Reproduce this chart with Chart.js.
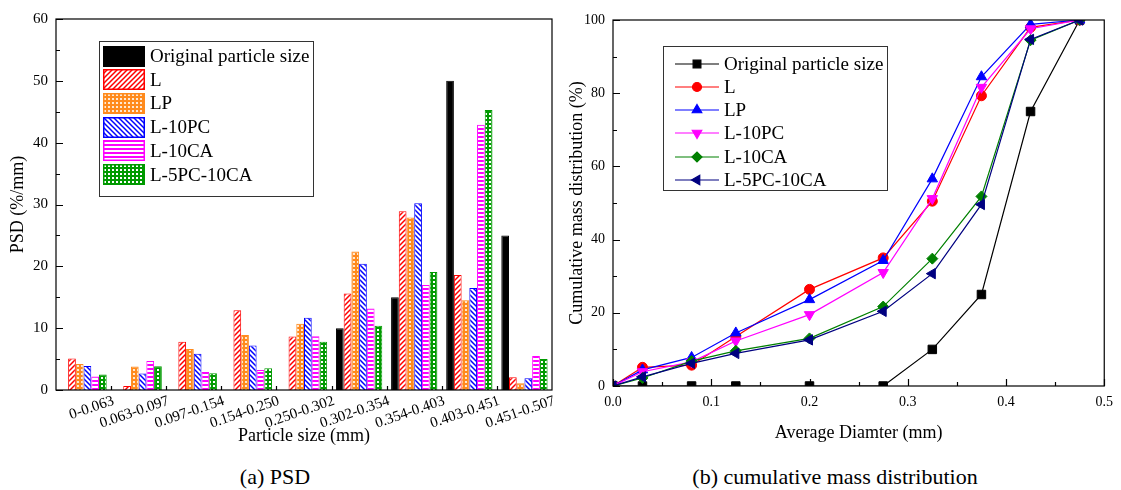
<!DOCTYPE html>
<html>
<head>
<meta charset="utf-8">
<script src="https://cdn.jsdelivr.net/npm/chart.js@4.4.1/dist/chart.umd.min.js"></script>
<style>
body { margin: 0; background: #fff; }
#wrap { position: relative; width: 1121px; height: 490px; font-family: 'Liberation Serif', 'Times New Roman', serif; color: #000; overflow: hidden; }
canvas.chart { position: absolute; top: 0; }
.legend { position: absolute; border: 1px solid #333; background: #fff; box-sizing: border-box; }
.row { position: absolute; display: flex; align-items: center; font-size: 19px; white-space: nowrap; }
.row canvas { display: block; }
.caption { position: absolute; top: 464px; font-size: 22px; transform: translateX(-50%); white-space: nowrap; }
</style>
</head>
<body>
<div id="wrap">
  <canvas id="psd" class="chart" width="560" height="450" style="left:0"></canvas>
  <canvas id="cum" class="chart" width="561" height="450" style="left:560px"></canvas>
  <div id="legendA" class="legend" style="left:99px;top:41px;width:215px;height:156px"></div>
  <div id="legendB" class="legend" style="left:663px;top:46px;width:225px;height:145px"></div>
  <div class="caption" style="left:275px">(a) PSD</div>
  <div class="caption" style="left:835px">(b) cumulative mass distribution</div>
</div>
<script>
// data
const sizeRanges = ['0-0.063', '0.063-0.097', '0.097-0.154', '0.154-0.250', '0.250-0.302',
                    '0.302-0.354', '0.354-0.403', '0.403-0.451', '0.451-0.507'];
const seriesNames = ['Original particle size', 'L', 'LP', 'L-10PC', 'L-10CA', 'L-5PC-10CA'];

const psdOriginal = [0, 0, 0, 0, 0, 10, 15, 50, 25];
const psdL        = [5.1, 0.65, 7.8, 12.9, 8.65, 15.6, 28.9, 18.6, 2.05];
const psdLP       = [4.2, 3.8, 6.65, 8.9, 10.7, 22.4, 27.9, 14.5, 1.1];
const psdL10PC    = [3.9, 2.65, 5.85, 7.2, 11.7, 20.4, 30.2, 16.5, 1.9];
const psdL10CA    = [2.2, 4.7, 2.9, 3.25, 8.7, 13.2, 17.0, 42.9, 5.5];
const psdL5PC10CA = [2.5, 3.85, 2.7, 3.5, 7.8, 10.4, 19.1, 45.3, 5.0];

const avgDiameter = [0, 0.03, 0.08, 0.125, 0.2, 0.275, 0.325, 0.375, 0.425, 0.475];
const cumOriginal = [0, 0, 0, 0, 0, 0, 10, 25, 75, 100];
const cumL        = [0, 5.1, 5.7, 13.5, 26.4, 35.0, 50.5, 79.3, 98.0, 100];
const cumLP       = [0, 4.4, 7.8, 14.5, 23.6, 34.3, 56.6, 84.5, 98.8, 100];
const cumL10PC    = [0, 3.9, 6.6, 12.3, 19.5, 31.0, 51.2, 81.6, 97.6, 100];
const cumL10CA    = [0, 2.2, 6.8, 9.6, 13.0, 21.7, 34.8, 51.8, 94.5, 100];
const cumL5PC10CA = [0, 2.5, 6.2, 8.9, 12.6, 20.4, 30.7, 49.6, 94.7, 100];

const psdTicks = [0, 10, 20, 30, 40, 50, 60];
const cumTicks = [0, 20, 40, 60, 80, 100];

const FONT = "'Liberation Serif', 'Times New Roman', serif";
const barColors = ['#000000', '#ff0000', '#ff8a1c', '#0000ff', '#ff00ff', '#009a00'];
const barFills = ['solid', 'fwd', 'dots', 'back', 'horiz', 'grid'];
const lineColors = ['#000000', '#ff0000', '#0000ff', '#ff00ff', '#008000', '#000080'];
const markers = [['rect', 0, 6], ['circle', 0, 5], ['triangle', 0, 6], ['triangle', 180, 6], ['rectRot', 0, 5.5], ['triangle', -90, 6]];

makePattern = (kind, color) => {
    if (kind === 'solid') return color;
    const c = document.createElement('canvas');
    const g = c.getContext('2d');
    let s = 5;
    if (kind === 'horiz' || kind === 'grid' || kind === 'dots') s = 4;
    c.width = s; c.height = s;
    g.fillStyle = '#fff';
    g.fillRect(0, 0, s, s);
    g.strokeStyle = color;
    g.fillStyle = color;
    g.lineWidth = 1.5;
    if (kind === 'fwd') {
        g.beginPath();
        g.moveTo(-1, s + 1); g.lineTo(s + 1, -1);
        g.moveTo(-1, 1); g.lineTo(1, -1);
        g.moveTo(s - 1, s + 1); g.lineTo(s + 1, s - 1);
        g.stroke();
    } else if (kind === 'back') {
        g.beginPath();
        g.moveTo(-1, -1); g.lineTo(s + 1, s + 1);
        g.moveTo(s - 1, -1); g.lineTo(s + 1, 1);
        g.moveTo(-1, s - 1); g.lineTo(1, s + 1);
        g.stroke();
    } else if (kind === 'horiz') {
        g.fillRect(0, 0, s, 2);
    } else if (kind === 'grid') {
        g.fillRect(0, 0, s, s);
        g.fillStyle = '#fff';
        g.fillRect(1, 1, 2, 2);
    } else if (kind === 'dots') {
        g.fillRect(0, 0, s, s);
        g.fillStyle = '#fff';
        g.beginPath();
        g.arc(2, 2, 1.1, 0, Math.PI * 2);
        g.fill();
    }
    return g.createPattern(c, 'repeat');
}

// box round the plot and inward tick marks
const frameTicks = {
    id: 'frameTicks',
    afterDraw(chart, args, opts) {
        const ctx = chart.ctx;
        const a = chart.chartArea;
        ctx.save();
        ctx.strokeStyle = '#000';
        ctx.lineWidth = 1.2;
        ctx.strokeRect(a.left, a.top, a.right - a.left, a.bottom - a.top);
        ctx.beginPath();
        const y = chart.scales.y;
        for (let v = y.min; v <= y.max + 1e-9; v += opts.yMinor) {
            const py = Math.round(y.getPixelForValue(v)) + 0.5;
            const major = Math.abs(v / opts.yMajor - Math.round(v / opts.yMajor)) < 1e-6;
            ctx.moveTo(a.left, py);
            ctx.lineTo(a.left + (major ? 7 : 4), py);
        }
        const x = chart.scales.x;
        if (opts.categories) {
            const n = x.getLabels().length;
            for (let i = 1; i < n; i++) {
                const px = Math.round(a.left + i * (a.right - a.left) / n) + 0.5;
                ctx.moveTo(px, a.bottom);
                ctx.lineTo(px, a.bottom - 4);
            }
        } else {
            for (let v = x.min; v <= x.max + 1e-9; v += opts.xMinor) {
                const px = Math.round(x.getPixelForValue(v)) + 0.5;
                const major = Math.abs(v / opts.xMajor - Math.round(v / opts.xMajor)) < 1e-6;
                ctx.moveTo(px, a.bottom);
                ctx.lineTo(px, a.bottom - (major ? 7 : 4));
            }
        }
        ctx.stroke();
        ctx.restore();
    }
};

const psdSeries = [psdOriginal, psdL, psdLP, psdL10PC, psdL10CA, psdL5PC10CA];
const cumSeries = [cumOriginal, cumL, cumLP, cumL10PC, cumL10CA, cumL5PC10CA];

const barSets = psdSeries.map((vals, i) => ({
    label: seriesNames[i],
    data: vals,
    backgroundColor: makePattern(barFills[i], barColors[i]),
    borderColor: barColors[i],
    borderWidth: 1,
    categoryPercentage: 0.84,
    barPercentage: 1
}));

new Chart(document.getElementById('psd'), {
    type: 'bar',
    data: { labels: sizeRanges, datasets: barSets },
    options: {
        responsive: false,
        animation: false,
        devicePixelRatio: 1,
        layout: { padding: { top: 19, right: 8, left: 0, bottom: 0 } },
        plugins: {
            legend: { display: false },
            tooltip: { enabled: false },
            frameTicks: { yMinor: 5, yMajor: 10, categories: true }
        },
        scales: {
            x: {
                grid: { display: false, drawTicks: false },
                border: { display: false },
                ticks: { color: '#000', font: { family: FONT, size: 15 }, maxRotation: 19, minRotation: 19,
                         autoSkip: false, padding: 2, labelOffset: 30 },
                title: { display: true, text: 'Particle size (mm)', color: '#000',
                         font: { family: FONT, size: 18 }, padding: { top: 0, bottom: 3 } },
                afterFit: (s) => { s.height = 60; }
            },
            y: {
                min: 0, max: 60,
                grid: { display: false, drawTicks: false },
                border: { display: false },
                afterBuildTicks: (s) => { s.ticks = psdTicks.map(v => ({ value: v })); },
                ticks: { color: '#000', font: { family: FONT, size: 15 }, padding: 8 },
                title: { display: true, text: 'PSD (%/mm)', color: '#000',
                         font: { family: FONT, size: 18 }, padding: { top: 7, bottom: 0 } },
                afterFit: (s) => { s.width = 56; }
            }
        }
    },
    plugins: [frameTicks]
});

const lineSets = cumSeries.map((vals, i) => ({
    label: seriesNames[i],
    data: vals.map((v, k) => ({ x: avgDiameter[k], y: v })),
    borderColor: lineColors[i],
    backgroundColor: lineColors[i],
    borderWidth: 1.2,
    pointStyle: markers[i][0],
    pointRotation: markers[i][1],
    pointRadius: markers[i][2],
    pointBorderWidth: 1,
    order: 5 - i,
    tension: 0
}));

new Chart(document.getElementById('cum'), {
    type: 'line',
    data: { datasets: lineSets },
    options: {
        responsive: false,
        animation: false,
        devicePixelRatio: 1,
        layout: { padding: { top: 20, right: 16, left: 0, bottom: 0 } },
        plugins: {
            legend: { display: false },
            tooltip: { enabled: false },
            frameTicks: { yMinor: 10, yMajor: 20, xMinor: 0.05, xMajor: 0.1 }
        },
        scales: {
            x: {
                type: 'linear', min: 0, max: 0.5,
                grid: { display: false, drawTicks: false },
                border: { display: false },
                ticks: { stepSize: 0.1, color: '#000', font: { family: FONT, size: 14 }, padding: 8,
                         callback: (v) => v.toFixed(1) },
                title: { display: true, text: 'Average Diamter (mm)', color: '#000',
                         font: { family: FONT, size: 18 }, padding: { top: 0, bottom: 6 } },
                afterFit: (s) => { s.height = 64; }
            },
            y: {
                min: 0, max: 100,
                grid: { display: false, drawTicks: false },
                border: { display: false },
                afterBuildTicks: (s) => { s.ticks = cumTicks.map(v => ({ value: v })); },
                ticks: { color: '#000', font: { family: FONT, size: 14 }, padding: 8 },
                title: { display: true, text: 'Cumulative mass distribution (%)', color: '#000',
                         font: { family: FONT, size: 18 }, padding: { top: 6, bottom: 0 } },
                afterFit: (s) => { s.width = 53; }
            }
        }
    },
    plugins: [frameTicks]
});

// legends
buildLegendA = () => {
    const box = document.getElementById('legendA');
    seriesNames.forEach((name, i) => {
        const row = document.createElement('div');
        row.className = 'row';
        row.style.left = '3px';
        row.style.top = (3 + i * 23.7) + 'px';
        const sw = document.createElement('canvas');
        sw.width = 42; sw.height = 21;
        const g = sw.getContext('2d');
        g.fillStyle = makePattern(barFills[i], barColors[i]);
        g.fillRect(0, 0, 42, 21);
        g.strokeStyle = barColors[i];
        g.lineWidth = 1.5;
        g.strokeRect(0.75, 0.75, 40.5, 19.5);
        const t = document.createElement('span');
        t.style.marginLeft = '5px';
        t.textContent = name;
        row.appendChild(sw);
        row.appendChild(t);
        box.appendChild(row);
    });
}

buildLegendB = () => {
    const box = document.getElementById('legendB');
    seriesNames.forEach((name, i) => {
        const row = document.createElement('div');
        row.className = 'row';
        row.style.left = '11px';
        row.style.top = (5.5 + i * 23.3) + 'px';
        const sw = document.createElement('canvas');
        sw.width = 46; sw.height = 22;
        const g = sw.getContext('2d');
        g.strokeStyle = lineColors[i];
        g.fillStyle = lineColors[i];
        g.lineWidth = 1.2;
        g.beginPath();
        g.moveTo(0, 11); g.lineTo(44, 11);
        g.stroke();
        Chart.helpers.drawPoint(g, { pointStyle: markers[i][0], rotation: markers[i][1],
                                     radius: markers[i][2] - 0.5, borderWidth: 1 }, 22, 11);
        const t = document.createElement('span');
        t.style.marginLeft = '3px';
        t.textContent = name;
        row.appendChild(sw);
        row.appendChild(t);
        box.appendChild(row);
    });
}

buildLegendA();
buildLegendB();
</script>
</body>
</html>
